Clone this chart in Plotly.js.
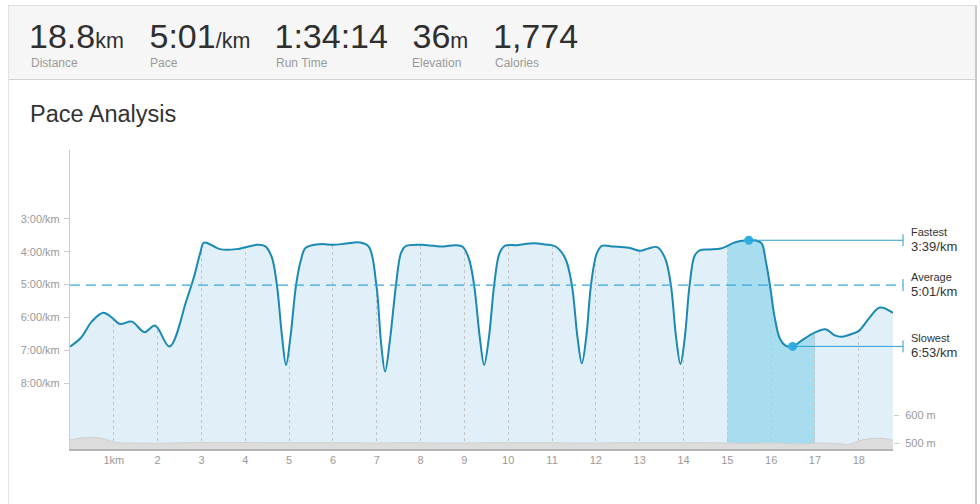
<!DOCTYPE html>
<html>
<head>
<meta charset="utf-8">
<script src="https://cdn.plot.ly/plotly-3.0.1.min.js"></script>
<style>
  html, body { margin:0; padding:0; background:#ffffff; width:980px; height:504px; overflow:hidden;
    font-family: "Liberation Sans", Arial, Helvetica, sans-serif; }
  #frame { position:absolute; left:8px; top:5px; width:966px; height:520px;
    border-left:1px solid #e2e2e2; border-right:2px solid #c9c9c9; border-top:1px solid #dedede; }
  #header { position:absolute; left:9px; top:6px; width:966px; height:73px; background:#f6f6f6;
    border-bottom:1px solid #d2d2d2; }
  .val { position:absolute; top:18.5px; white-space:nowrap; font-size:34px; line-height:34px; color:#2f2f2f; }
  .unit { font-size:21.5px; color:#2f2f2f; }
  .lab { position:absolute; top:57px; white-space:nowrap; font-size:12px; line-height:12px; color:#9a9a9a; }
  #title { position:absolute; left:30px; top:102px; font-size:23.5px; line-height:24px; color:#333; white-space:nowrap; }
  #chart { position:absolute; left:0; top:0; width:980px; height:504px; }
</style>
</head>
<body>
<div id="frame"></div>
<div id="header"></div>
<div id="stats"></div>
<div id="title">Pace Analysis</div>
<div id="chart"></div>
<script>
// ---------- header stats ----------
const statValues = ['18.8', '5:01', '1:34:14', '36', '1,774'];
const statUnits  = ['km', '/km', '', 'm', ''];
const statLabels = ['Distance', 'Pace', 'Run Time', 'Elevation', 'Calories'];

// ---------- pace series (km, minutes per km) ----------
const paceKm = [
  0.00, 0.25, 0.50, 0.76, 0.95, 1.14, 1.41, 1.70, 1.94, 2.27, 2.66, 2.82, 2.97, 3.06,
  3.42, 3.80, 4.26, 4.45, 4.60, 4.72, 4.84, 4.93, 5.03, 5.16, 5.27, 5.38,
  5.71, 6.01, 6.30, 6.62, 6.82, 6.99, 7.10, 7.19, 7.30, 7.44, 7.55, 7.65,
  7.99, 8.30, 8.52, 8.80, 8.96, 9.10, 9.22, 9.35, 9.45, 9.56, 9.68, 9.80, 9.92,
  10.20, 10.58, 10.85, 11.08, 11.30, 11.45, 11.58, 11.68, 11.78, 11.89, 12.02, 12.14,
  12.40, 12.75, 13.01, 13.20, 13.40, 13.58, 13.71, 13.83, 13.93, 14.03, 14.14, 14.26, 14.38,
  14.60, 14.85, 15.00, 15.14, 15.30, 15.49, 15.65, 15.78, 15.88, 15.97, 16.08, 16.20, 16.32, 16.49,
  16.70, 16.97, 17.24, 17.45, 17.62, 17.85, 18.00, 18.25, 18.48, 18.78
];
const paceMin = [
  6.89, 6.62, 6.12, 5.86, 6.00, 6.20, 6.13, 6.45, 6.25, 6.89, 5.47, 4.81, 4.05, 3.72,
  3.92, 3.92, 3.79, 3.83, 4.15, 5.00, 6.60, 7.45, 6.60, 5.00, 4.25, 3.88,
  3.77, 3.79, 3.75, 3.72, 3.85, 5.00, 6.80, 7.65, 6.70, 5.00, 4.05, 3.84,
  3.79, 3.82, 3.84, 3.80, 3.85, 4.20, 5.00, 6.60, 7.45, 6.60, 5.00, 4.05, 3.82,
  3.80, 3.74, 3.78, 3.84, 4.20, 5.00, 6.60, 7.40, 6.60, 5.00, 4.05, 3.82,
  3.84, 3.88, 3.97, 3.90, 3.86, 4.20, 5.00, 6.60, 7.42, 6.60, 5.00, 4.10, 3.95,
  3.93, 3.90, 3.82, 3.73, 3.67, 3.65, 3.66, 3.74, 4.30, 5.00, 6.00, 6.65, 6.85, 6.89,
  6.70, 6.48, 6.36, 6.55, 6.59, 6.50, 6.41, 6.00, 5.70, 5.86
];

// ---------- elevation series (km, metres) ----------
const elevKm = [
  0.00, 0.20, 0.40, 0.65, 0.80, 0.95, 1.10, 1.40, 1.80, 2.20, 2.60, 3.00, 3.50, 4.00, 4.50,
  5.00, 5.50, 6.00, 6.50, 7.00, 7.50, 8.00, 8.50, 9.00, 9.50, 10.00, 10.50, 11.00, 11.50,
  12.00, 12.50, 13.00, 13.50, 14.00, 14.50, 15.00, 15.50, 16.00, 16.50, 16.80, 17.00, 17.30,
  17.60, 17.75, 17.90, 18.10, 18.40, 18.60, 18.78
];
const elevM = [
  512, 518, 521, 520, 515, 507, 502, 501, 500, 501, 502, 503, 503, 503, 502,
  502, 502, 502, 502, 501, 502, 502, 501, 501, 502, 502, 502, 502, 501,
  501, 502, 502, 502, 502, 502, 501, 500, 501, 499, 498, 501, 500,
  498, 496, 503, 513, 518, 517, 510
];

// ---------- axes labels ----------
const kmTicks = [1, 2, 3, 4, 5, 6, 7, 8, 9, 10, 11, 12, 13, 14, 15, 16, 17, 18];
const kmTickText = ['1km', '2', '3', '4', '5', '6', '7', '8', '9', '10', '11', '12', '13', '14', '15', '16', '17', '18'];
const paceTickVals = [3, 4, 5, 6, 7, 8];
const paceTickText = ['3:00/km', '4:00/km', '5:00/km', '6:00/km', '7:00/km', '8:00/km'];
const elevTickVals = [500, 600];
const elevTickText = ['500 m', '600 m'];

// ---------- highlights / markers ----------
const highlightKm = [15, 17];
const markerNames  = ['Fastest', 'Slowest'];
const markerKm     = [15.49, 16.49];
const markerPace   = [3.65, 6.8833];
const markerText   = ['3:39/km', '6:53/km'];
const averageName  = 'Average';
const averagePace  = 5.0167;
const averageText  = '5:01/km';

// ---------- header drawing ----------
const statLeft  = [29, 149.5, 274.5, 412.5, 493];
const labelLeft = [31, 150, 276, 412, 495];
const statsDiv = document.getElementById('stats');
statValues.forEach((v, i) => {
  const d = document.createElement('div');
  d.className = 'val';
  d.style.left = statLeft[i] + 'px';
  d.innerHTML = v + (statUnits[i] ? '<span class="unit">' + statUnits[i] + '</span>' : '');
  statsDiv.appendChild(d);
  const l = document.createElement('div');
  l.className = 'lab';
  l.style.left = labelLeft[i] + 'px';
  l.textContent = statLabels[i];
  statsDiv.appendChild(l);
});

// ---------- chart ----------
const FONT = '"Liberation Sans", Arial, Helvetica, sans-serif';
const xMax = paceKm[paceKm.length - 1];
const paceRange = [10.01, 0.9];
const elevRange = [480, 1536];
const ANN_X = 1.0122;   // end of annotation leader lines (paper)
const LAB_X = 1.0195;   // annotation text (paper)
const toPaper = k => k / xMax;

const traces = [
  { x: paceKm, y: paceMin, type: 'scatter', mode: 'lines',
    line: { width: 0, shape: 'spline', smoothing: 1 }, hoverinfo: 'skip', showlegend: false },
  { x: [0, xMax], y: [paceRange[1], paceRange[1]], type: 'scatter', mode: 'lines',
    fill: 'tonexty', fillcolor: '#ffffff', line: { width: 0 }, hoverinfo: 'skip', showlegend: false },
  { x: paceKm, y: paceMin, type: 'scatter', mode: 'lines',
    line: { width: 2, color: '#1a89b4', shape: 'spline', smoothing: 1 }, hoverinfo: 'skip', showlegend: false },
  { x: markerKm, y: markerPace, type: 'scatter', mode: 'markers',
    marker: { size: 9, color: '#2eaee3' }, hoverinfo: 'skip', showlegend: false },
  { x: elevKm, y: elevM, type: 'scatter', mode: 'lines', yaxis: 'y2', fill: 'tozeroy',
    fillcolor: '#dcdcdc', line: { width: 1, color: '#d0d0d0', shape: 'spline', smoothing: 1 },
    hoverinfo: 'skip', showlegend: false }
];

const shapes = [
  { type: 'rect', xref: 'x', yref: 'paper', x0: highlightKm[0], x1: highlightKm[1], y0: 0, y1: 1,
    fillcolor: '#a8dcef', line: { width: 0 }, layer: 'below' },
  { type: 'line', xref: 'paper', yref: 'y', x0: 0, x1: ANN_X, y0: averagePace, y1: averagePace,
    line: { color: '#3aa8d6', width: 1.3, dash: '10px,6px' } },
  { type: 'line', xref: 'paper', yref: 'y', x0: ANN_X, x1: ANN_X, ysizemode: 'pixel', yanchor: averagePace,
    y0: -6, y1: 6, line: { color: '#2b9fd1', width: 1 } }
];
const annotations = [
  { xref: 'paper', yref: 'y', x: LAB_X, y: averagePace, xanchor: 'left', yanchor: 'middle', yshift: 8,
    text: averageName, showarrow: false, font: { size: 11, color: '#333', family: FONT } },
  { xref: 'paper', yref: 'y', x: LAB_X, y: averagePace, xanchor: 'left', yanchor: 'middle', yshift: -6,
    text: averageText, showarrow: false, font: { size: 13, color: '#333', family: FONT } }
];
markerKm.forEach((k, i) => {
  shapes.push({ type: 'line', xref: 'paper', yref: 'y', x0: toPaper(k), x1: ANN_X,
    y0: markerPace[i], y1: markerPace[i], line: { color: '#2b9fd1', width: 1 } });
  shapes.push({ type: 'line', xref: 'paper', yref: 'y', x0: ANN_X, x1: ANN_X, ysizemode: 'pixel',
    yanchor: markerPace[i], y0: -6, y1: 6, line: { color: '#2b9fd1', width: 1 } });
  annotations.push({ xref: 'paper', yref: 'y', x: LAB_X, y: markerPace[i], xanchor: 'left', yanchor: 'middle',
    yshift: 8, text: markerNames[i], showarrow: false, font: { size: 11, color: '#333', family: FONT } });
  annotations.push({ xref: 'paper', yref: 'y', x: LAB_X, y: markerPace[i], xanchor: 'left', yanchor: 'middle',
    yshift: -6, text: markerText[i], showarrow: false, font: { size: 13, color: '#333', family: FONT } });
});

const layout = {
  width: 980, height: 504,
  margin: { l: 70, r: 87, t: 150, b: 55, pad: 0 },
  paper_bgcolor: 'rgba(0,0,0,0)',
  plot_bgcolor: '#e1f0f8',
  font: { family: FONT, size: 11, color: '#999' },
  showlegend: false,
  xaxis: {
    range: [0, xMax], tickmode: 'array', tickvals: kmTicks, ticktext: kmTickText,
    showgrid: true, gridcolor: '#c4c4c4', griddash: 'dot', gridwidth: 1,
    showline: true, linecolor: '#b4b4b4', linewidth: 2, zeroline: false,
    ticks: '', tickfont: { size: 11, color: '#999', family: FONT }, fixedrange: true
  },
  yaxis: {
    range: paceRange, tickmode: 'array', tickvals: paceTickVals, ticktext: paceTickText,
    showgrid: false, zeroline: false, showline: true, linecolor: '#cccccc', linewidth: 1,
    ticks: 'outside', ticklen: 5, tickcolor: '#cccccc', ticklabelstandoff: 2,
    tickfont: { size: 11, color: '#999', family: FONT }, fixedrange: true
  },
  yaxis2: {
    overlaying: 'y', side: 'right', range: elevRange, tickmode: 'array',
    tickvals: elevTickVals, ticktext: elevTickText, showgrid: false, zeroline: false, showline: false,
    ticks: 'outside', ticklen: 5, tickcolor: '#cccccc', ticklabelstandoff: 4,
    tickfont: { size: 11, color: '#999', family: FONT }, fixedrange: true
  },
  shapes: shapes,
  annotations: annotations
};

Plotly.newPlot('chart', traces, layout, { staticPlot: true, displayModeBar: false });
</script>
</body>
</html>
